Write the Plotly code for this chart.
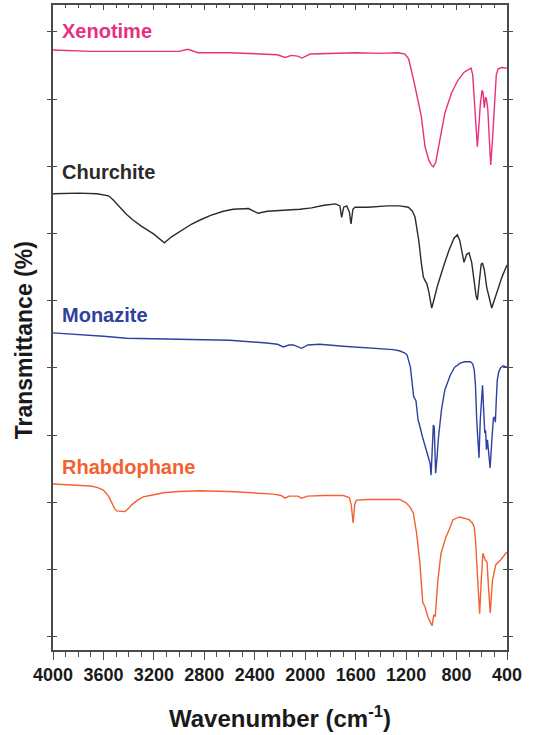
import plotly.graph_objects as go

# FTIR spectra of four rare-earth phosphate minerals, stacked with vertical offsets.
# Values are transmittance in stacked units (one y tick = 10 units).

xeno_wn = [4000, 3700, 3300, 3000, 2930, 2850, 2600, 2400, 2220, 2160, 2110, 2060, 2026,
           1960, 1800, 1600, 1400, 1260, 1210, 1180, 1140, 1100, 1088, 1080, 1050, 1020,
           1000, 984, 965, 930, 893, 840, 789, 740, 700, 685, 672, 660, 645, 635, 625,
           612, 598, 590, 580, 570, 562, 552, 540, 529, 515, 500, 485, 470, 440, 400]
xeno_t = [87.3, 87.1, 87.1, 87.1, 87.4, 86.9, 86.9, 86.8, 86.6, 86.2, 86.5, 86.4, 86.1,
          86.7, 86.8, 86.9, 86.8, 86.9, 86.7, 86.0, 82.8, 79.1, 77.9, 77.5, 72.9, 70.9,
          70.2, 69.9, 70.6, 73.9, 77.9, 80.9, 82.8, 84.0, 84.5, 84.6, 83.6, 79.9, 74.6,
          72.9, 75.4, 79.1, 81.3, 81.0, 78.7, 80.3, 79.9, 78.4, 74.0, 70.2, 74.0, 79.9,
          83.6, 84.5, 84.7, 84.6]

church_wn = [4000, 3800, 3650, 3560, 3524, 3470, 3420, 3366, 3300, 3200, 3117, 3060, 2980,
             2900, 2834, 2750, 2650, 2572, 2450, 2374, 2300, 2200, 2100, 2041, 1950, 1850,
             1760, 1725, 1711, 1695, 1671, 1650, 1637, 1622, 1605, 1500, 1350, 1250, 1182,
             1150, 1129, 1100, 1080, 1063, 1045, 1037, 1020, 997, 980, 950, 905, 860, 820,
             794, 775, 755, 741, 720, 701, 680, 660, 645, 635, 620, 605, 595, 580, 560, 540,
             521, 500, 470, 440, 400]
church_t = [65.9, 66.0, 65.9, 65.6, 65.0, 63.9, 62.9, 62.0, 61.1, 59.9, 58.6, 59.5, 60.5,
            61.4, 62.0, 62.7, 63.3, 63.6, 63.7, 63.0, 63.3, 63.4, 63.6, 63.6, 63.8, 64.2,
            64.4, 64.1, 62.4, 63.9, 64.1, 63.2, 61.4, 63.6, 63.9, 63.9, 64.1, 64.1, 63.9,
            63.3, 62.4, 59.0, 55.7, 53.5, 52.8, 52.6, 51.3, 48.9, 50.1, 52.3, 55.0, 57.5,
            59.3, 59.8, 59.0, 56.8, 55.7, 56.9, 57.1, 55.7, 52.8, 50.7, 50.1, 53.1, 55.4,
            55.6, 54.6, 51.9, 50.1, 48.9, 50.1, 51.9, 53.5, 55.3]

mona_wn = [4000, 3800, 3600, 3416, 3000, 2600, 2305, 2220, 2173, 2130, 2094, 2028, 1980,
           1883, 1700, 1500, 1300, 1248, 1210, 1192, 1166, 1140, 1122, 1105, 1100, 1095,
           1070, 1049, 1023, 1010, 1002, 990, 984, 977, 966, 955, 945, 920, 893, 850, 815,
           770, 737, 690, 672, 660, 650, 640, 630, 622, 612, 600, 594, 585, 576, 570, 563,
           555, 548, 534, 520, 508, 500, 492, 485, 477, 465, 450, 430, 400]
mona_t = [45.2, 45.0, 44.7, 44.4, 44.3, 44.1, 43.7, 43.5, 43.1, 43.4, 43.4, 42.9, 43.4,
          43.5, 43.2, 43.0, 42.7, 42.5, 42.2, 41.9, 40.1, 35.7, 35.1, 32.2, 31.6, 31.6,
          29.7, 28.2, 26.7, 25.8, 24.0, 29.3, 31.5, 31.2, 24.3, 26.6, 29.3, 33.7, 36.7,
          38.9, 40.1, 40.7, 40.9, 40.9, 40.6, 39.7, 37.4, 32.2, 27.8, 26.6, 32.2, 37.3,
          37.4, 33.7, 30.3, 30.7, 27.8, 29.3, 28.1, 25.1, 29.3, 32.5, 32.7, 31.9, 35.2,
          38.2, 39.4, 40.0, 40.3, 40.1]

rhab_wn = [4000, 3850, 3707, 3650, 3601, 3560, 3535, 3510, 3495, 3460, 3429, 3400, 3376,
           3330, 3284, 3200, 3125, 3000, 2834, 2600, 2400, 2250, 2190, 2160, 2130, 2060,
           2028, 1980, 1850, 1700, 1650, 1635, 1620, 1608, 1595, 1500, 1350, 1250, 1200,
           1170, 1143, 1117, 1091, 1068, 1050, 1025, 994, 981, 969, 948, 923, 885, 859,
           828, 776, 740, 700, 675, 660, 650, 635, 617, 604, 591, 573, 558, 548, 533, 515,
           489, 451, 400]
rhab_t = [22.7, 22.6, 22.4, 22.2, 21.8, 20.9, 20.0, 19.0, 18.7, 18.7, 18.6, 19.1, 19.6,
          20.3, 20.8, 21.1, 21.4, 21.6, 21.7, 21.6, 21.4, 21.2, 21.0, 20.6, 20.9, 20.9,
          20.6, 20.9, 21.0, 21.0, 20.7, 19.6, 16.9, 19.6, 20.3, 20.4, 20.4, 20.4, 19.9,
          19.3, 18.4, 15.4, 11.0, 5.1, 4.4, 2.8, 1.6, 3.2, 3.0, 8.4, 12.4, 14.8, 15.9,
          17.4, 17.8, 17.6, 17.4, 16.9, 16.3, 14.4, 8.4, 3.4, 8.4, 12.4, 11.4, 11.1, 7.7,
          3.5, 8.4, 10.7, 11.4, 12.6]

names = ["Xenotime", "Churchite", "Monazite", "Rhabdophane"]
colors = ["#E8317E", "#2B2B2B", "#3040A0", "#F26230"]
label_y = [90.1, 69.1, 47.9, 25.2]

spectra = [(xeno_wn, xeno_t), (church_wn, church_t), (mona_wn, mona_t), (rhab_wn, rhab_t)]

x_ticks = [4000, 3600, 3200, 2800, 2400, 2000, 1600, 1200, 800, 400]
y_ticks = [0, 10, 20, 30, 40, 50, 60, 70, 80, 90]

FONT = "Liberation Sans, Arial, sans-serif"
axis_line = "#4a4a4a"

fig = go.Figure()
for (wn, t), name, col in zip(spectra, names, colors):
    fig.add_trace(go.Scatter(x=wn, y=t, mode="lines", name=name,
                             line=dict(color=col, width=1.4), showlegend=False))

# Invisible companion trace so the top (mirror) wavenumber axis is drawn
fig.add_trace(go.Scatter(x=[x_ticks[0], x_ticks[-1]], y=[None, None], xaxis="x2",
                         mode="lines", showlegend=False, hoverinfo="skip"))

annotations = []
for name, col, ly in zip(names, colors, label_y):
    annotations.append(dict(x=3945, y=ly, xref="x", yref="y", text=name, showarrow=False,
                            xanchor="left", yanchor="middle",
                            font=dict(family=FONT, size=20, color=col, weight="bold")))

annotations.append(dict(x=0.5, y=-0.104, xref="paper", yref="paper",
                        text="Wavenumber (cm<sup>-1</sup>)", showarrow=False,
                        xanchor="center", yanchor="middle",
                        font=dict(family=FONT, size=24, color="#1a1a1a", weight="bold")))
annotations.append(dict(x=-0.062, y=0.48, xref="paper", yref="paper",
                        text="Transmittance (%)", showarrow=False, textangle=-90,
                        xanchor="center", yanchor="middle",
                        font=dict(family=FONT, size=23, color="#1a1a1a", weight="bold")))

fig.update_layout(
    width=537, height=735,
    margin=dict(l=53, r=30, t=5, b=85),
    paper_bgcolor="white", plot_bgcolor="white",
    annotations=annotations,
    xaxis=dict(range=[4000, 400], tickvals=x_ticks, ticks="outside", ticklen=8,
               tickwidth=1.3, tickcolor=axis_line, showline=True, linecolor=axis_line,
               linewidth=1.5, mirror=False, showgrid=False, zeroline=False,
               ticklabelstandoff=0,
               tickfont=dict(family=FONT, size=18, color="#1a1a1a", weight="bold"),
               minor=dict(dtick=100, ticks="outside", ticklen=5, tickcolor=axis_line,
                          tickwidth=1.1, showgrid=False)),
    xaxis2=dict(range=[4000, 400], overlaying="x", side="top", anchor="y",
                tickvals=x_ticks, ticks="inside", ticklen=5, tickwidth=1.2,
                tickcolor=axis_line, showline=True, linecolor=axis_line, linewidth=1.5,
                showticklabels=False, showgrid=False, zeroline=False,
                minor=dict(dtick=100, ticks="inside", ticklen=3, tickcolor=axis_line,
                           tickwidth=1, showgrid=False)),
    yaxis=dict(range=[-2, 94], tickvals=y_ticks, showticklabels=False, ticks="inside",
               ticklen=4, tickwidth=1.2, tickcolor=axis_line, showline=True,
               linecolor=axis_line, linewidth=1.5, mirror="allticks", showgrid=False,
               zeroline=False),
)

fig.write_html("out.html")
